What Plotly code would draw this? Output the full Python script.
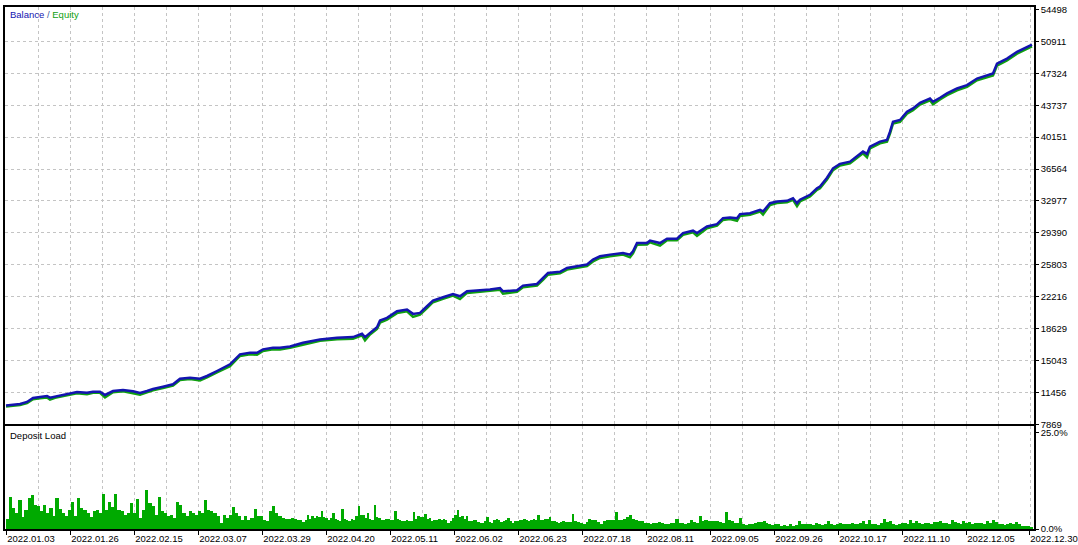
import numpy as np
import plotly.graph_objects as go

# ---------------- data ----------------
# position along the tester's x axis (0 = first bar, 1026 = last bar)
pos = [0, 14, 21, 27, 34, 41, 44, 49, 61, 71, 81, 87, 94, 99, 107, 117, 127, 134, 141, 147,
       157, 167, 174, 184, 194, 201, 211, 224, 234, 244, 251, 257, 267, 274, 284, 297, 314, 331, 347, 356,
       359, 364, 371, 374, 381, 391, 401, 407, 414, 421, 427, 437, 447, 454, 461, 474, 484, 494, 497, 511,
       517, 531, 537, 542, 554, 561, 571, 581, 587, 594, 604, 617, 624, 627, 631, 641, 644, 654, 661, 671,
       677, 687, 691, 701, 711, 717, 724, 731, 734, 744, 754, 757, 764, 771, 781, 787, 791, 794, 804, 811,
       814, 821, 827, 834, 844, 851, 857, 861, 864, 874, 881, 884, 887, 894, 901, 907, 914, 924, 927, 934,
       941, 951, 961, 971, 981, 987, 991, 1001, 1011, 1017, 1026]

balance = [10000, 10170, 10390, 10840, 10950, 11060, 10870, 10990, 11290, 11510, 11430, 11550, 11550, 11180, 11620, 11740, 11590, 11400, 11620, 11850,
           12110, 12380, 13000, 13120, 13000, 13310, 13870, 14620, 15740, 15920, 15920, 16300, 16480, 16480, 16630, 17040, 17420, 17600, 17680, 18050,
           17680, 18160, 18800, 19550, 19840, 20590, 20780, 20290, 20400, 21150, 21790, 22160, 22530, 22270, 22830, 22950, 23020, 23200, 22830, 22950,
           23470, 23650, 24320, 24880, 25020, 25450, 25640, 25830, 26390, 26760, 26950, 27130, 26950, 27320, 28250, 28250, 28520, 28250, 28740, 28740,
           29370, 29640, 29370, 30120, 30380, 31050, 31130, 31050, 31500, 31610, 31990, 31800, 32730, 32920, 33000, 33290, 32730, 33120, 33670, 34410,
           34600, 35600, 36650, 37150, 37400, 37970, 38530, 38270, 39090, 39650, 39840, 40770, 41890, 42080, 43010, 43380, 44020, 44500, 44130, 44580,
           45060, 45620, 46000, 46740, 47040, 47300, 48420, 48980, 49740, 50100, 50550]

equity = [9880, 10040, 10260, 10700, 10820, 10900, 10650, 10860, 11150, 11380, 11250, 11420, 11420, 10900, 11480, 11600, 11380, 11200, 11480, 11700,
          11960, 12230, 12850, 12960, 12820, 13150, 13720, 14420, 15560, 15760, 15700, 16120, 16320, 16300, 16480, 16850, 17260, 17440, 17500, 17880,
          17320, 17980, 18600, 19300, 19650, 20380, 20580, 19950, 20200, 20950, 21600, 21980, 22350, 21950, 22650, 22780, 22860, 23000, 22550, 22780,
          23280, 23480, 24100, 24700, 24850, 25270, 25470, 25650, 26180, 26580, 26770, 26950, 26650, 27100, 28050, 28080, 28330, 27950, 28560, 28560,
          29180, 29450, 29050, 29920, 30200, 30850, 30950, 30750, 31300, 31420, 31800, 31450, 32530, 32740, 32820, 33100, 32400, 32920, 33480, 34220,
          34400, 35380, 36450, 36960, 37200, 37780, 38340, 37900, 38880, 39450, 39640, 40550, 41680, 41880, 42800, 43180, 43820, 44300, 43850, 44380,
          44860, 45420, 45800, 46540, 46850, 47080, 48200, 48780, 49540, 49900, 50350]

# deposit load (%) in four stretches of the test
load_a = [2.5, 8.2, 5.3, 4.0, 7.5, 3.0, 4.9, 7.9, 8.8, 6.2,
          5.8, 4.5, 6.2, 4.0, 5.3, 3.2, 7.9, 5.0, 4.0, 3.2,
          4.9, 6.8, 3.2, 7.9, 5.3, 4.9, 4.0, 3.0, 4.5, 4.9,
          4.0, 9.0, 4.9, 7.0, 5.6, 9.0, 4.9, 4.5, 3.6, 4.0,
          6.6, 4.0, 7.6, 2.7, 4.9, 10.1, 6.6, 5.8, 3.6, 8.2,
          4.5, 4.0, 3.2, 3.6, 2.7, 7.0, 6.2, 4.0, 3.2, 4.5,
          4.0, 3.6, 4.5, 4.0, 7.5, 4.9, 4.5, 4.0, 3.2, 1.5,
          3.6, 2.7, 3.6, 5.6, 4.0, 3.2, 2.3, 3.2, 2.3, 2.7,
          5.0, 3.2, 3.2, 2.3, 1.9, 4.5, 5.8, 4.0, 3.2, 2.7,
          2.5, 2.5, 2.7, 2.5, 2.3]
load_b = [2.1, 1.8, 2.1, 3.6, 2.4, 3.2, 2.8, 3.2, 3.0, 4.6,
          2.9, 2.7, 2.2, 2.7, 4.0, 2.5, 2.3, 1.9, 5.1, 2.4,
          2.3, 2.0, 2.6, 2.3, 3.2, 5.9, 3.5, 3.6, 2.7, 4.0,
          2.6, 2.3, 6.2, 2.9, 2.7, 2.2, 2.3, 2.5, 2.5, 2.1,
          2.3, 4.6, 2.4, 2.3, 1.9, 1.9, 2.3, 2.0, 1.9, 4.3,
          2.6, 3.2, 3.0, 3.0, 3.8, 2.5, 2.7, 1.9, 2.2, 2.3,
          2.4, 2.3, 2.5, 2.3, 1.5, 2.0, 2.7, 3.6, 4.9, 3.0,
          3.2, 2.6, 3.2, 2.0, 1.9, 2.2, 2.3, 1.6, 1.5, 1.5,
          1.9, 3.0, 1.7, 1.5, 2.2, 2.5, 2.1, 1.8, 1.9, 2.3,
          2.7, 2.0, 1.5, 1.9, 1.9, 2.1, 2.3, 2.4, 2.2, 2.0,
          2.3, 2.6, 2.3, 3.4, 2.1, 2.3, 2.5, 2.6, 2.9, 2.0,
          1.9, 1.6, 1.5, 1.8, 1.9, 1.6, 1.8, 1.8, 3.8]
load_c = [2.0, 1.7, 1.4, 1.2, 1.6, 2.5, 2.2, 2.1, 1.6, 1.3, 2.0,
          2.3, 2.1, 2.1, 4.4, 2.3, 2.3, 2.5, 2.9, 3.5, 2.4,
          2.3, 1.9, 1.9, 1.5, 1.5, 1.3, 1.5, 1.5, 1.7, 1.5,
          1.2, 1.3, 1.5, 1.5, 2.6, 1.5, 1.5, 1.3, 1.4, 2.3,
          1.6, 1.5, 3.2, 2.0, 2.1, 1.9, 1.9, 2.0, 1.9, 1.7,
          1.5, 4.4, 2.1, 1.9, 1.5, 1.5, 2.7, 1.3, 1.0, 1.2,
          1.3, 1.5, 1.6, 1.8, 1.9, 1.5, 1.1, 1.0, 1.3, 1.3]
load_d = [0.8, 1.0, 0.8, 1.1, 0.8, 0.9, 1.9, 1.2, 1.3, 1.1, 1.3, 1.0, 1.4, 1.2, 1.0, 1.3, 1.9, 1.1, 1.0, 1.2,
          1.5, 1.1, 1.3, 1.2, 1.5, 1.3, 1.2, 1.4, 1.9, 1.2, 2.3, 1.3, 1.3, 1.0, 1.4, 2.5, 1.6, 1.9, 1.2, 1.0,
          1.3, 1.5, 1.5, 1.2, 2.3, 1.5, 1.9, 1.4, 1.3, 1.5, 1.5, 1.3, 1.6, 1.8, 1.9, 1.4, 1.5, 1.2, 2.3, 1.6,
          1.5, 1.3, 1.9, 1.5, 1.6, 1.3, 1.5, 1.4, 1.5, 1.2, 1.9, 1.5, 2.3, 1.6, 1.3, 1.1, 1.0, 1.3, 1.5, 1.2,
          1.6, 1.1, 0.8, 0.7, 0.8, 0.2]
load_bounds = [0, 294, 568, 774, 1027]

date_labels = ["2022.01.03", "2022.01.26", "2022.02.15", "2022.03.07", "2022.03.29", "2022.04.20",
               "2022.05.11", "2022.06.02", "2022.06.23", "2022.07.18", "2022.08.11", "2022.09.05",
               "2022.09.26", "2022.10.17", "2022.11.10", "2022.12.05", "2022.12.30"]
date_pos = [0, 64, 128, 192, 256, 320, 384, 448, 512, 576, 640, 704, 768, 832, 896, 960, 1023]

y_ticks = [7869, 11456, 15043, 18629, 22216, 25803, 29390, 32977, 36564, 40151, 43737, 47324, 50911, 54498]
load_ticks = [0, 25]
load_tick_text = ["0.0%", "25.0%"]

# ---------------- figure ----------------
W, H = 1078, 545
ML, MR, MT, MB = 5, 44, 5, 16
ph = H - MT - MB
dom_bottom = [0, (529 - 426) / ph]
dom_top = [(529 - 424) / ph, 1]

FONT = "Liberation Sans"
GRID = "#c4c4c4"
BLUE = "#1414b0"
GREEN = "#10a010"
BAR = "#00aa00"

bx, bw, by = [], [], []
segs = [load_a, load_b, load_c, load_d]
for seg, a, b in zip(segs, load_bounds[:-1], load_bounds[1:]):
    n = len(seg)
    step = (b - a) / n
    bx += list(a + step * (np.arange(n) + 0.5))
    bw += [step * 1.05] * n
    by += seg

fig = go.Figure()
fig.add_trace(go.Bar(x=bx, y=by, width=bw, marker=dict(color=BAR, line_width=0),
                     xaxis="x", yaxis="y", hoverinfo="skip"))
fig.add_trace(go.Scatter(x=pos, y=equity, mode="lines", line=dict(color=GREEN, width=2.5),
                         xaxis="x2", yaxis="y2"))
fig.add_trace(go.Scatter(x=pos, y=balance, mode="lines", line=dict(color=BLUE, width=2.5),
                         xaxis="x2", yaxis="y2"))

grid_x = list(range(32, 1025, 32))
minor_x = dict(tickvals=grid_x, showgrid=True, gridcolor=GRID, griddash="3px,3px", gridwidth=1, ticks="")
tfont = dict(family=FONT, size=9.5, color="#000000")

fig.update_layout(
    width=W, height=H, margin=dict(l=ML, r=MR, t=MT, b=MB),
    paper_bgcolor="white", plot_bgcolor="white", showlegend=False, bargap=0,
    xaxis=dict(domain=[0, 1], anchor="y", range=[-1, 1028], tickvals=date_pos, ticktext=date_labels,
               ticks="outside", ticklen=4, tickcolor="black", ticklabelposition="outside right",
               ticklabeloverflow="allow",
               showgrid=False, minor=minor_x, showline=True, mirror=True, linecolor="black",
               linewidth=1.5, zeroline=False, tickfont=tfont, automargin=False),
    xaxis2=dict(domain=[0, 1], anchor="y2", matches="x", range=[-1, 1028], showticklabels=False,
                ticks="", showgrid=False, minor=minor_x, showline=True, mirror=True,
                linecolor="black", linewidth=1.5, zeroline=False),
    yaxis=dict(domain=dom_bottom, anchor="x", range=[0, 25 * 103 / 97], side="right",
               tickvals=load_ticks, ticktext=load_tick_text, ticks="outside", ticklen=3,
               tickcolor="black", showgrid=False, showline=True, mirror=True, linecolor="black",
               linewidth=1.5, zeroline=False, tickfont=tfont, automargin=False,
               ticklabeloverflow="allow"),
    yaxis2=dict(domain=dom_top, anchor="x2", range=[7869, 54498 + 280], side="right",
                tickvals=y_ticks, ticktext=[str(v) for v in y_ticks], ticks="outside", ticklen=3,
                tickcolor="black", showgrid=False,
                minor=dict(tickvals=y_ticks[1:-1], showgrid=True, gridcolor=GRID, griddash="3px,3px",
                           gridwidth=1, ticks=""),
                showline=True, mirror=True, linecolor="black", linewidth=1.5, zeroline=False,
                tickfont=tfont, automargin=False, ticklabeloverflow="allow"),
)

fig.add_annotation(xref="paper", yref="paper", x=3 / 1029, y=(529 - 13) / ph, xanchor="left",
                   yanchor="middle", showarrow=False,
                   text=f"<span style='color:{BLUE}'>Balance</span><span style='color:#4060a0'> / </span>"
                        f"<span style='color:{GREEN}'>Equity</span>",
                   font=dict(family=FONT, size=9.5))
fig.add_annotation(xref="paper", yref="paper", x=3 / 1029, y=(529 - 435) / ph, xanchor="left",
                   yanchor="middle", showarrow=False, text="Deposit Load",
                   font=dict(family=FONT, size=9.5, color="#000000"))

fig.write_html("out.html", config={"displayModeBar": False},
               post_script="document.body.style.margin='0';document.body.style.overflow='hidden';")
